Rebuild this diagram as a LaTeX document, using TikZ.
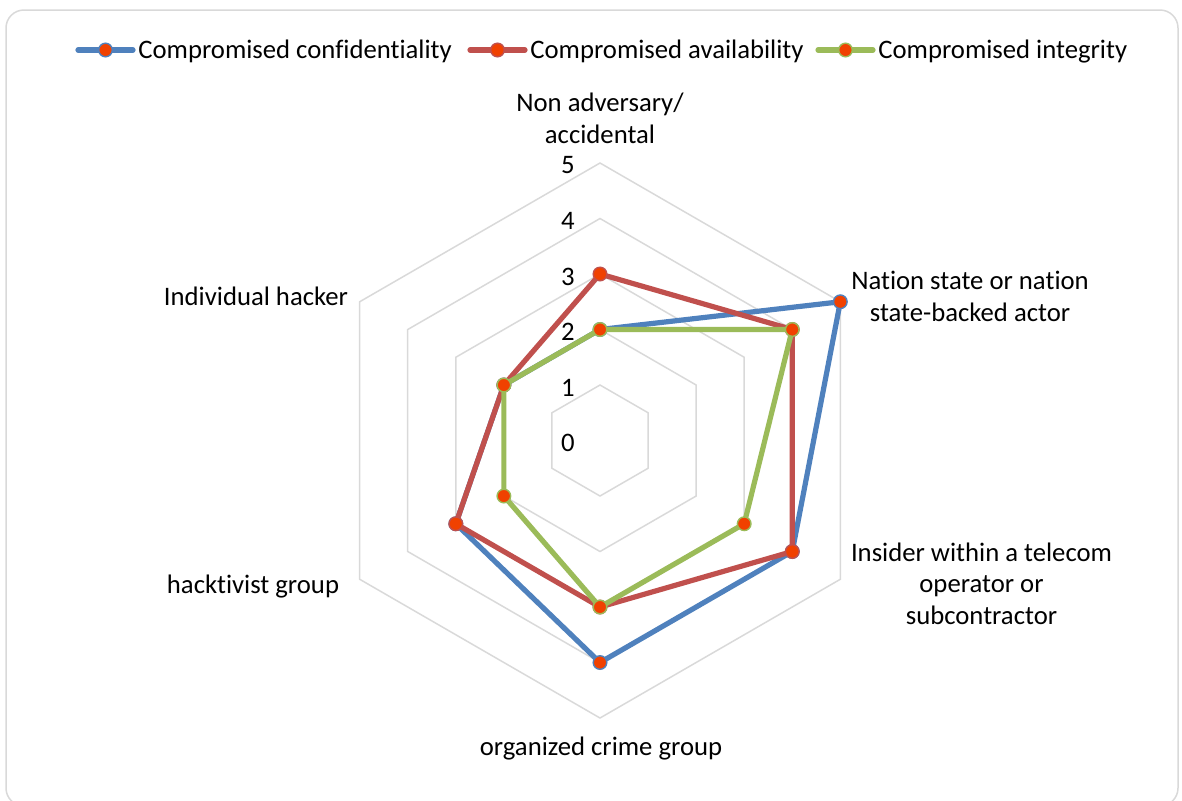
\documentclass[tikz,border=0pt]{standalone}
\usepackage{fontspec}
\setmainfont{Carlito}[Ligatures=NoCommon]
\usepackage{xcolor}
\usetikzlibrary{
    calc,
    positioning
}
\definecolor{confblue}{HTML}{4F81BD}
\definecolor{availred}{HTML}{C0504D}
\definecolor{integgreen}{HTML}{9BBB59}
\definecolor{dotfill}{RGB}{240,65,0}
\definecolor{gridgray}{HTML}{D9D9D9}

\begin{document}
\begin{tikzpicture}[x=0.5pt, y=-0.5pt,
        gridline/.style={draw=gridgray, line width=0.75pt},
        series/.style={line width=2.6pt, line join=round},
        dot/.style={circle, fill=dotfill, draw=#1, line width=0.7pt, minimum size=6.8pt, inner sep=0pt},
        lbl/.style={font=\fontsize{13.35}{15.75}\selectfont, align=center, anchor=base, inner sep=0pt}]
    \useasboundingbox (0, 0) rectangle (1182, 800);
    \draw[gridgray, line width=0.75pt, rounded corners=9pt] (6, 10) rectangle (1178, 806);

    \coordinate (c) at (600, 440.5);
    \foreach \r in {1,...,5}
        \draw[gridline] ($(c)+(-90:55.5*\r)$)
            \foreach \a in {-30, 30, 90, 150, 210} { -- ($(c)+(\a:55.5*\r)$) } -- cycle;

    \foreach \v in {0,...,5}
        \node[lbl, anchor=east] (num\v) at (575, 443-55.5*\v) {\v};

    \node[lbl] (nonadv) at (600, 143.2) {Non adversary/\\accidental};
    \node[lbl] (nation) at (970, 321) {Nation state or nation\\state-backed actor};
    \node[lbl] (insider) at (981.5, 624) {Insider within a telecom\\operator or\\subcontractor};
    \node[lbl] (crime) at (601, 755) {organized crime group};
    \node[lbl] (hacktivist) at (253, 593) {hacktivist group};
    \node[lbl] (individual) at (256, 305) {Individual hacker};

    \foreach \v [count=\i] in {2, 5, 4, 4, 3, 2}
        \coordinate (conf\i) at ($(c)+(-150+60*\i:55.5*\v)$);
    \foreach \v [count=\i] in {3, 4, 4, 3, 3, 2}
        \coordinate (avail\i) at ($(c)+(-150+60*\i:55.5*\v)$);
    \foreach \v [count=\i] in {2, 4, 3, 3, 2, 2}
        \coordinate (integ\i) at ($(c)+(-150+60*\i:55.5*\v)$);

    \draw[series, confblue] (conf1) -- (conf2) -- (conf3) -- (conf4) -- (conf5) -- (conf6) -- cycle;
    \foreach \i in {1,...,6}
        \node[dot=confblue] (confdot\i) at (conf\i) {};
    \draw[series, availred] (avail1) -- (avail2) -- (avail3) -- (avail4) -- (avail5) -- (avail6) -- cycle;
    \foreach \i in {1,...,6}
        \node[dot=availred] (availdot\i) at (avail\i) {};
    \draw[series, integgreen] (integ1) -- (integ2) -- (integ3) -- (integ4) -- (integ5) -- (integ6) -- cycle;
    \foreach \i in {1,...,6}
        \node[dot=integgreen] (integdot\i) at (integ\i) {};

    \foreach \s/\col/\xa/\txt in {conf/confblue/78/Compromised confidentiality,
                                  avail/availred/470/Compromised availability,
                                  integ/integgreen/818/Compromised integrity} {
        \coordinate (leg\s a) at (\xa, 50);
        \coordinate (leg\s b) at (\xa+55, 50);
        \draw[series, line cap=round, \col] (leg\s a) -- (leg\s b);
        \node[dot=\col] (leg\s dot) at ($(leg\s a)!0.5!(leg\s b)$) {};
        \node[lbl, anchor=base west] (leg\s text) at (\xa+60, 58) {\txt};
    }
\end{tikzpicture}
\end{document}
